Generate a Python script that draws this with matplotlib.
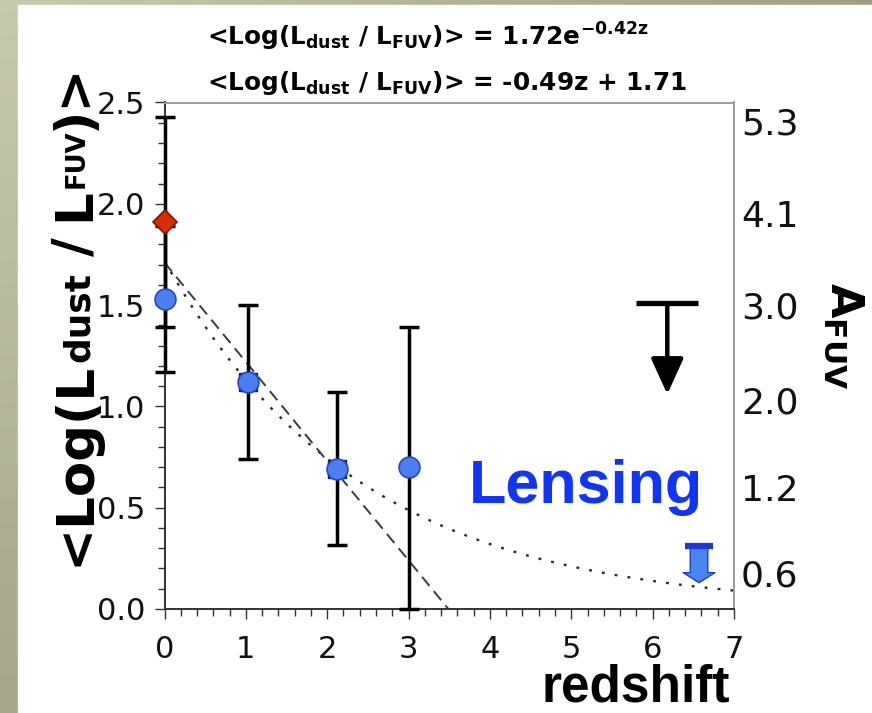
import numpy as np
import matplotlib
matplotlib.use("Agg")
import matplotlib.pyplot as plt
from matplotlib.patches import Rectangle, FancyArrowPatch
from matplotlib.ticker import MultipleLocator, FixedLocator, FixedFormatter

plt.rcParams["mathtext.fontset"] = "dejavusans"

# ---- data -------------------------------------------------------------
# Lyman-break / UV-selected averages (circles)
z_circ = [0.0, 1.03, 2.12, 3.0]
irx_circ = [1.53, 1.12, 0.69, 0.70]
irx_circ_lo = [0.36, 0.38, 0.375, 0.70]
irx_circ_hi = [0.36, 0.38, 0.38, 0.69]

# square markers sitting behind two of the circles
z_sq = [1.03, 2.12]
irx_sq = [1.12, 0.69]

# local reference (diamond)
z_dia = [0.0]
irx_dia = [1.91]
irx_dia_err = [0.52]

# upper limit at high redshift
z_ul = [6.18]
irx_ul = [1.51]
ul_len = 0.45

# lensed source upper limit
z_lens = [6.57]
irx_lens = [0.31]
lens_len = 0.18

# fits
exp_amp, exp_rate = 1.72, 0.42
lin_slope, lin_icpt = -0.49, 1.71

# right-hand A_FUV labels and the IRX values they sit at
afuv_labels = ["5.3", "4.1", "3.0", "2.0", "1.2", "0.6"]
afuv_at_irx = [2.41, 1.95, 1.50, 1.03, 0.60, 0.18]

x_ticks = [0, 1, 2, 3, 4, 5, 6, 7]
y_ticks = [0.0, 0.5, 1.0, 1.5, 2.0, 2.5]

# ---- figure -----------------------------------------------------------
W, H = 872, 713
fig = plt.figure(figsize=(W / 100, H / 100), dpi=100)


def fx(x_px):
    return x_px / W


def fy(y_px):
    return 1 - y_px / H


# olive frame behind a white page
bg = fig.add_axes([0, 0, 1, 1], zorder=-10)
bg.set_axis_off()
yy, xx = np.mgrid[0:1:60j, 0:1:60j]
t = np.clip(0.75 * yy + 0.9 * xx, 0, 1)
c_light = np.array([0.78, 0.79, 0.67])
c_dark = np.array([0.61, 0.61, 0.50])
img = c_light[None, None, :] * (1 - t[..., None]) + c_dark[None, None, :] * t[..., None]
bg.imshow(img, extent=[0, 1, 0, 1], aspect="auto", origin="upper")
bg.add_patch(Rectangle((fx(18), 0), 1, fy(5), color="white", transform=bg.transAxes))
bg.set_xlim(0, 1)
bg.set_ylim(0, 1)

ax = fig.add_axes([fx(164.5), fy(609), (734 - 164.5) / W, (609 - 102.5) / H])
ax.set_xlim(0, 7)
ax.set_ylim(0, 2.5)

# fit curves
zz = np.linspace(0, 7, 300)
ax.plot(zz, exp_amp * np.exp(-exp_rate * zz), color="#2a2a2a", lw=1.7,
        linestyle=(0, (1.2, 4.3)), zorder=2)
z_lin_end = -lin_icpt / lin_slope
zl = np.linspace(0, z_lin_end, 50)
ax.plot(zl, lin_slope * zl + lin_icpt, color="#3a3a3a", lw=1.4,
        linestyle=(0, (6, 3.5)), zorder=2)

# error bars
ax.errorbar(z_circ, irx_circ, yerr=[irx_circ_lo, irx_circ_hi], fmt="none",
            ecolor="black", elinewidth=2.5, capsize=7.5, capthick=2.5,
            zorder=3, clip_on=False)
ax.errorbar(z_dia, irx_dia, yerr=irx_dia_err, fmt="none",
            ecolor="black", elinewidth=2.5, capsize=7.5, capthick=2.5,
            zorder=3, clip_on=False)

ax.plot(z_sq, irx_sq, linestyle="none", marker="s", ms=12.5,
        mfc="#1d2f8c", mec="#101a55", mew=1.0, zorder=4)
ax.plot(z_circ, irx_circ, linestyle="none", marker="o", ms=15,
        mfc="#4a7ff2", mec="#2148c8", mew=1.2, zorder=5, clip_on=False)
ax.plot(z_dia, irx_dia, linestyle="none", marker="D", ms=12,
        mfc="#dd2a00", mec="#7a1500", mew=1.2, zorder=5, clip_on=False)

# black upper limit
ax.plot(z_ul, irx_ul, linestyle="none", marker="_", ms=45, mew=3.8,
        color="black", zorder=5)
for zu, yu in zip(z_ul, irx_ul):
    ax.add_patch(FancyArrowPatch((zu, yu), (zu, yu - ul_len),
                                 arrowstyle="-|>,head_length=1.1,head_width=0.5",
                                 mutation_scale=20, lw=3.2, color="black",
                                 shrinkA=0, shrinkB=0, zorder=5))

# lensed upper limit (block arrow)
for zb, yb in zip(z_lens, irx_lens):
    ax.add_patch(FancyArrowPatch((zb, yb), (zb, yb - lens_len),
                                 arrowstyle="simple,head_length=0.6,head_width=1.9,tail_width=1.05",
                                 mutation_scale=12, lw=1.0, facecolor="#4a86f2",
                                 edgecolor="#1a3ad0", shrinkA=0, shrinkB=0, zorder=5))
ax.plot(z_lens, irx_lens, linestyle="none", marker="_", ms=20, mew=4.5,
        color="#1a36d6", zorder=6)

ax.text(5.18, 0.60, "Lensing", color="#1034f8", fontsize=44,
        fontweight="bold", family="Liberation Sans", ha="center", va="center")

# axes styling
for side in ("left", "bottom"):
    ax.spines[side].set_color("#333333")
    ax.spines[side].set_linewidth(1.4)
for side in ("top", "right"):
    ax.spines[side].set_color("#9a9a9a")
    ax.spines[side].set_linewidth(1.4)

ax.xaxis.set_major_locator(FixedLocator(x_ticks))
ax.xaxis.set_minor_locator(MultipleLocator(0.2))
ax.yaxis.set_major_locator(FixedLocator(y_ticks))
ax.yaxis.set_minor_locator(MultipleLocator(0.1))
ax.yaxis.set_major_formatter(FixedFormatter([f"{v:.1f}" for v in y_ticks]))
ax.tick_params(axis="both", which="both", direction="out", color="#333333",
               width=1.0, labelsize=22, labelcolor="#111111")
ax.tick_params(axis="y", which="major", length=7, pad=7)
ax.tick_params(axis="y", which="minor", length=5)
ax.tick_params(axis="x", which="major", length=7, pad=12)
ax.tick_params(axis="x", which="minor", length=5)
for lab in ax.get_xticklabels() + ax.get_yticklabels():
    lab.set_family("DejaVu Sans")

axr = ax.twinx()
axr.set_ylim(ax.get_ylim())
axr.yaxis.set_major_locator(FixedLocator(afuv_at_irx))
axr.yaxis.set_major_formatter(FixedFormatter(afuv_labels))
axr.tick_params(axis="y", length=0, pad=5, labelsize=26, labelcolor="#111111")
for s in axr.spines.values():
    s.set_visible(False)

# vertical axis title, built from pieces so the subscripts can differ in size
renderer = fig.canvas.get_renderer()
ylab_size = 37
ylab_pieces = [  # text, size factor, rise (px), gap after (px)
    ("<Log(L", 1.0, 0, 0),
    ("dust", 0.7, 0, 16),
    ("/", 1.0, 0, 16),
    ("L", 1.0, 0, 0),
    ("FUV", 0.5, 5, 0),
    (")>", 1.0, 0, 0),
]
x_base, y_pos = 89, 566
for s, k, rise, gap in ylab_pieces:
    kw = dict(fontsize=ylab_size * k, fontweight="bold", family="DejaVu Sans")
    probe = fig.text(0, 0, s, **kw)
    w = probe.get_window_extent(renderer).width
    probe.remove()
    fig.text(fx(x_base - rise), fy(y_pos), s, rotation=90, rotation_mode="anchor",
             ha="left", va="baseline", **kw)
    y_pos -= w + gap

fig.text(fx(730), fy(713), "redshift", fontsize=37, fontweight="bold",
         family="Liberation Sans", ha="right", va="bottom")
fig.text(fx(844), fy(336), r"$\mathbf{A}_{\mathbf{FUV}}$", rotation=-90,
         fontsize=32, ha="center", va="center")

# fit equations
eq_kw = dict(fontsize=17.8, fontweight="bold", family="DejaVu Sans",
             ha="left", va="center")
fig.text(fx(207), fy(37),
         r"<Log(L$_{\mathbf{dust}}$ / L$_{\mathbf{FUV}}$)> = 1.72e$^{\mathbf{-0.42z}}$",
         **eq_kw)
fig.text(fx(207), fy(83),
         r"<Log(L$_{\mathbf{dust}}$ / L$_{\mathbf{FUV}}$)> = -0.49z + 1.71",
         **eq_kw)

fig.savefig("out.png", dpi=100)
